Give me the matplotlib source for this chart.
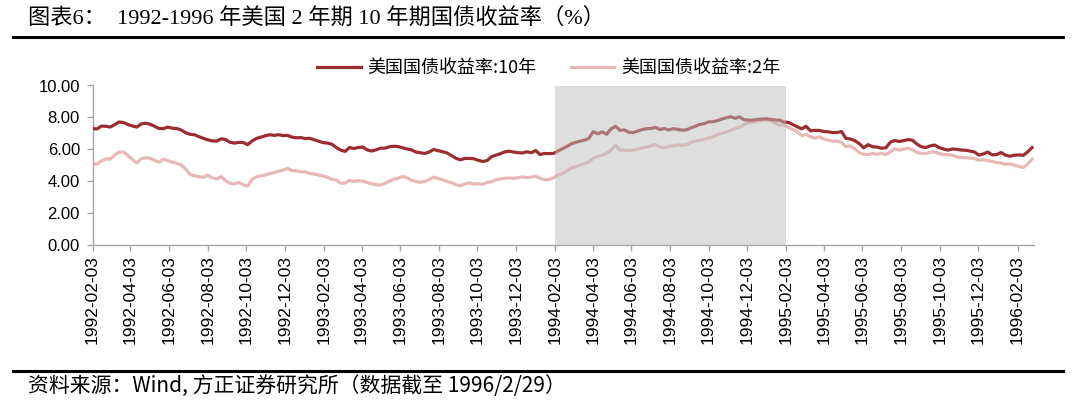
import matplotlib
matplotlib.use('Agg')
import matplotlib.pyplot as plt
import matplotlib.dates as mdates
from matplotlib.lines import Line2D
from matplotlib.ticker import FormatStrFormatter
import pandas as pd
import numpy as np

# ---------------- data (weekly readings) ----------------
dates = pd.date_range('1992-02-03', periods=213, freq='7D')

ten_year = [
    7.31, 7.28, 7.46, 7.45, 7.40, 7.55, 7.72, 7.68, 7.56, 7.47,
    7.40, 7.60, 7.64, 7.58, 7.45, 7.31, 7.30, 7.40, 7.33, 7.31,
    7.22, 7.05, 6.95, 6.92, 6.80, 6.70, 6.60, 6.54, 6.52, 6.66,
    6.63, 6.45, 6.40, 6.44, 6.44, 6.30, 6.53, 6.69, 6.77, 6.86,
    6.92, 6.88, 6.92, 6.87, 6.88, 6.77, 6.73, 6.74, 6.68, 6.70,
    6.61, 6.52, 6.43, 6.40, 6.33, 6.12, 5.96, 5.88, 6.12, 6.06,
    6.12, 6.15, 5.97, 5.90, 5.98, 6.08, 6.08, 6.17, 6.20, 6.18,
    6.10, 6.03, 5.97, 5.84, 5.79, 5.75, 5.85, 6.00, 5.92, 5.86,
    5.78, 5.62, 5.45, 5.35, 5.44, 5.44, 5.42, 5.33, 5.25, 5.30,
    5.54, 5.64, 5.73, 5.85, 5.89, 5.84, 5.80, 5.78, 5.85, 5.80,
    5.93, 5.68, 5.75, 5.74, 5.75, 5.90, 6.04, 6.18, 6.35, 6.44,
    6.52, 6.58, 6.70, 7.12, 6.98, 7.10, 6.95, 7.28, 7.45, 7.20,
    7.22, 7.08, 7.05, 7.15, 7.24, 7.30, 7.31, 7.38, 7.25, 7.31,
    7.22, 7.30, 7.26, 7.21, 7.22, 7.35, 7.45, 7.56, 7.62, 7.72,
    7.74, 7.80, 7.90, 7.98, 8.05, 7.95, 8.04, 7.86, 7.84, 7.83,
    7.88, 7.90, 7.92, 7.88, 7.84, 7.83, 7.72, 7.69, 7.56, 7.42,
    7.29, 7.45, 7.17, 7.19, 7.19, 7.12, 7.10, 7.06, 7.06, 7.12,
    6.69, 6.65, 6.55, 6.37, 6.10, 6.30, 6.17, 6.15, 6.08, 6.10,
    6.45, 6.56, 6.50, 6.55, 6.62, 6.58, 6.34, 6.17, 6.12, 6.22,
    6.28, 6.12, 6.03, 5.96, 6.03, 6.01, 5.96, 5.95, 5.90, 5.84,
    5.65, 5.72, 5.84, 5.66, 5.68, 5.81, 5.64, 5.58, 5.64, 5.66,
    5.63, 5.85, 6.12,
]

two_year = [
    5.12, 5.08, 5.28, 5.41, 5.40, 5.65, 5.82, 5.85, 5.62, 5.38,
    5.16, 5.42, 5.48, 5.46, 5.32, 5.20, 5.40, 5.30, 5.20, 5.14,
    5.04, 4.78, 4.44, 4.36, 4.30, 4.26, 4.40, 4.22, 4.16, 4.30,
    4.06, 3.88, 3.85, 3.94, 3.80, 3.71, 4.12, 4.29, 4.35, 4.40,
    4.50, 4.55, 4.65, 4.70, 4.82, 4.68, 4.66, 4.60, 4.60, 4.50,
    4.47, 4.40, 4.34, 4.26, 4.13, 4.09, 3.88, 3.90, 4.06, 4.00,
    4.05, 4.02, 3.93, 3.85, 3.80, 3.78, 3.88, 4.02, 4.14, 4.20,
    4.31, 4.22, 4.08, 3.99, 3.95, 4.00, 4.12, 4.27, 4.18, 4.10,
    4.00, 3.92, 3.80, 3.73, 3.85, 3.91, 3.83, 3.86, 3.82, 3.93,
    3.98, 4.10, 4.16, 4.20, 4.22, 4.19, 4.23, 4.29, 4.24, 4.27,
    4.33, 4.20, 4.10, 4.12, 4.22, 4.40, 4.50, 4.66, 4.84, 4.91,
    5.02, 5.12, 5.23, 5.45, 5.57, 5.64, 5.76, 5.95, 6.27, 5.95,
    5.96, 5.93, 5.96, 6.02, 6.10, 6.15, 6.22, 6.31, 6.15, 6.12,
    6.18, 6.22, 6.28, 6.26, 6.30, 6.43, 6.52, 6.57, 6.64, 6.72,
    6.80, 6.92, 7.01, 7.10, 7.20, 7.30, 7.40, 7.55, 7.67, 7.73,
    7.78, 7.82, 7.83, 7.78, 7.65, 7.52, 7.55, 7.38, 7.25, 7.12,
    6.87, 6.94, 6.79, 6.71, 6.79, 6.66, 6.58, 6.52, 6.52, 6.45,
    6.17, 6.22, 6.04, 5.80, 5.70, 5.67, 5.75, 5.70, 5.75, 5.68,
    5.86, 6.05, 5.96, 6.02, 6.08, 5.98, 5.82, 5.76, 5.75, 5.82,
    5.85, 5.75, 5.68, 5.67, 5.65, 5.54, 5.50, 5.48, 5.47, 5.43,
    5.33, 5.36, 5.31, 5.25, 5.18, 5.15, 5.07, 5.10, 5.02, 4.94,
    4.87, 5.08, 5.40,
]

series_labels = ['美国国债收益率:10年', '美国国债收益率:2年']
shade_start = '1994-02-03'
shade_end = '1995-02-03'
x_start = '1992-02-03'
x_end = '1996-02-29'
y_ticks = [0, 2, 4, 6, 8, 10]
title = '图表6：  1992-1996 年美国 2 年期 10 年期国债收益率（%）'
footnote = '资料来源：Wind, 方正证券研究所（数据截至 1996/2/29）'

# ---------------- figure ----------------
W, H = 1080, 403
fig = plt.figure(figsize=(W / 100, H / 100), dpi=100)
ax = fig.add_axes([92.5 / W, 1 - 245.4 / H, (1034 - 92.5) / W, (245.4 - 85.5) / H])

c10 = '#9B2D30'
c2 = '#E8B7B7'
ax.plot(dates, two_year, color=c2, lw=2.3, zorder=2, label=series_labels[1])
ax.plot(dates, ten_year, color=c10, lw=2.3, zorder=3, label=series_labels[0])
ax.axvspan(pd.Timestamp(shade_start), pd.Timestamp(shade_end),
           color=(0.745, 0.745, 0.745), alpha=0.5, lw=0, zorder=4)

ax.set_xlim(pd.Timestamp(x_start), pd.Timestamp(x_end))
ax.set_ylim(y_ticks[0], y_ticks[-1])
ax.set_yticks(y_ticks)
ax.yaxis.set_major_formatter(FormatStrFormatter('%.2f'))
ax.xaxis.set_major_locator(mdates.MonthLocator(bymonth=range(2, 13, 2), bymonthday=3))
ax.xaxis.set_major_formatter(mdates.DateFormatter('%Y-%m-%d'))

for s in ['top', 'right']:
    ax.spines[s].set_visible(False)
for s in ['left', 'bottom']:
    ax.spines[s].set_color('#A6A6A6')
    ax.spines[s].set_linewidth(1.0)
ax.tick_params(axis='both', direction='out', length=4, width=1, color='#A6A6A6',
               labelcolor='black')
for lab in ax.get_yticklabels():
    lab.set_fontfamily(['Liberation Sans', 'DejaVu Sans'])
    lab.set_fontsize(12)
for lab in ax.get_xticklabels():
    lab.set_fontfamily(['Liberation Sans', 'DejaVu Sans'])
    lab.set_fontsize(12.5)
    lab.set_rotation(90)
ax.tick_params(axis='x', pad=3)
ax.tick_params(axis='y', pad=5)

# legend
h, l = ax.get_legend_handles_labels()
order = [1, 0]
fig.legend([h[i] for i in order], [l[i] for i in order], loc='center',
           bbox_to_anchor=(549 / W, 1 - 68 / H), ncol=2, frameon=False,
           prop={'family': ['Noto Sans CJK SC', 'DejaVu Sans'], 'size': 13},
           handlelength=2.4, handletextpad=0.4, columnspacing=1.9)

# title, rules and footnote
fig.text(28 / W, 1 - 18 / H, title, fontsize=16, va='center', ha='left',
         family=['Liberation Serif', 'Noto Sans CJK SC'])
fig.add_artist(Line2D([13 / W, 1063 / W], [1 - 37 / H] * 2, color='black', lw=2.2))
fig.add_artist(Line2D([13 / W, 1063 / W], [1 - 371 / H] * 2, color='black', lw=2.2))
fig.text(28 / W, 1 - 386 / H, footnote, fontsize=15, va='center', ha='left',
         family=['Noto Sans CJK SC', 'DejaVu Sans'])

fig.savefig('out.png', dpi=100)
